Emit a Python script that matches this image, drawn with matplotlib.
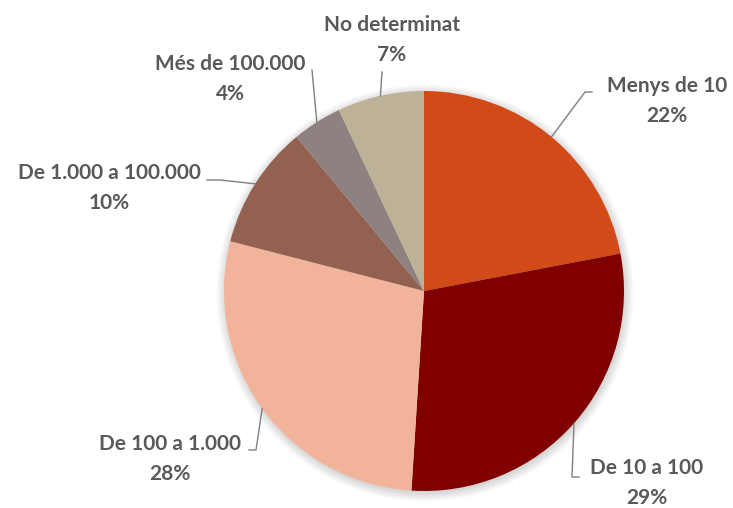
import matplotlib
matplotlib.use("Agg")
import matplotlib.pyplot as plt
import numpy as np
from matplotlib.patches import Circle

categories = ["Menys de 10", "De 10 a 100", "De 100 a 1.000",
              "De 1.000 a 100.000", "Més de 100.000", "No determinat"]
values = [22, 29, 28, 10, 4, 7]
colors = ["#D14A18", "#800000", "#F2B39B", "#936152", "#8E8281", "#BDB297"]

# label block centers and leader elbows (pixel coords, top-left origin)
label_pos = [(667, 101), (647, 483), (170, 459), (109, 188), (230, 79), (392, 40)]
leader_pts = [
    [(585, 92), (592, 92)],
    [(572, 477), (579, 477)],
    [(256, 450), (249, 450)],
    [(220, 180), (207, 180)],
    [(312, 70)],
    [(382, 72)],
]

W, H = 733, 508
CX, CY, R = 424, 291, 200

fig = plt.figure(figsize=(W / 100, H / 100), dpi=100)
ax = fig.add_axes([0, 0, 1, 1])

def px(p):
    return ((p[0] - CX) / R, (CY - p[1]) / R)

# soft shadow
for k in range(8):
    ax.add_patch(Circle((0.005, -0.01), 1.0 + 0.006 * k, color="#000000",
                        alpha=0.018, lw=0, zorder=0))

wedges, _ = ax.pie(values, colors=colors, startangle=90, counterclock=False,
                   radius=1.0, center=(0, 0), frame=True,
                   wedgeprops=dict(linewidth=0))
ax.set_xlim(-CX / R, (W - CX) / R)
ax.set_ylim(-(H - CY) / R, CY / R)
ax.set_aspect("equal")
ax.axis("off")

font = ["Lato", "DejaVu Sans"]
total = sum(values)
for w, cat, val, lp, pts in zip(wedges, categories, values, label_pos, leader_pts):
    ang = np.deg2rad((w.theta1 + w.theta2) / 2)
    start = (np.cos(ang), np.sin(ang))
    xs = [start[0]] + [px(p)[0] for p in pts]
    ys = [start[1]] + [px(p)[1] for p in pts]
    ax.plot(xs, ys, color="#7F7F7F", lw=1.0, zorder=3)
    x, y = px(lp)
    ax.text(x, y, f"{cat}\n{round(val / total * 100)}%", ha="center", va="center",
            multialignment="center", fontsize=15, fontweight="bold",
            color="#595959", family=font, linespacing=1.65, zorder=4)

fig.savefig("out.png", dpi=100)
